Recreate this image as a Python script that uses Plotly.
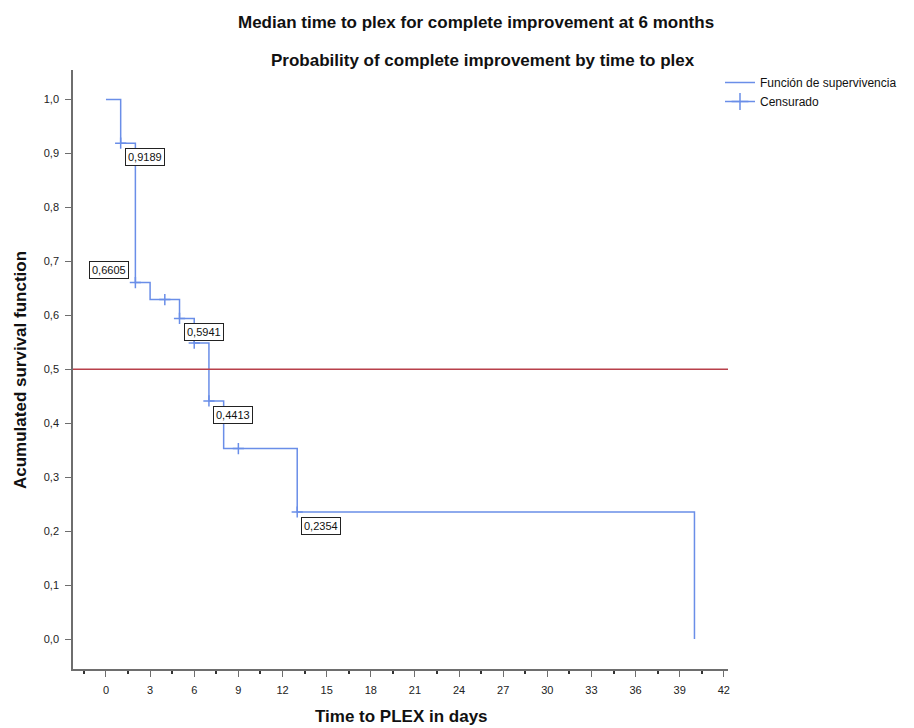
import plotly.graph_objects as go

# ---- data ----
event_times = [0, 1, 2, 3, 5, 6, 7, 8, 13, 40]
survival = [1.0, 0.9189, 0.6605, 0.6290, 0.5941, 0.5484, 0.4413, 0.3530, 0.2354, 0.0]

censor_times = [1, 2, 4, 5, 6, 7, 9, 13]
censor_values = [0.9189, 0.6605, 0.6290, 0.5941, 0.5484, 0.4413, 0.3530, 0.2354]

label_times = [1, 2, 5, 7, 13]
label_values = [0.9189, 0.6605, 0.5941, 0.4413, 0.2354]
label_texts = ["0,9189", "0,6605", "0,5941", "0,4413", "0,2354"]

median_level = 0.5

x_ticks = list(range(0, 43, 3))
y_ticks = [i / 10 for i in range(11)]

title1 = "Median time to plex for complete improvement at 6 months"
title2 = "Probability of complete improvement by time to plex"
x_title = "Time to PLEX in days"
y_title = "Acumulated survival function"

FONT = "Liberation Sans, Arial, sans-serif"
BLUE = "#6a8ee8"
RED = "#b8404a"
AXIS = "#6e6e6e"

L, T, W, H = 73, 70, 655, 599

fig = go.Figure()

fig.add_trace(go.Scatter(
    x=event_times, y=survival, mode="lines", line_shape="hv",
    line=dict(color=BLUE, width=1.5), name="Función de supervivencia",
))
fig.add_trace(go.Scatter(
    x=censor_times, y=censor_values, mode="markers",
    marker=dict(symbol="cross-thin", size=8, line=dict(color=BLUE, width=1.5), color=BLUE),
    name="Censurado", showlegend=False,
))
# legend proxy for the censored marks (line with a cross, as in the reference)
fig.add_trace(go.Scatter(
    x=[None], y=[None], mode="lines+markers",
    line=dict(color=BLUE, width=1.5),
    marker=dict(symbol="cross-thin", size=12, line=dict(color=BLUE, width=1.5), color=BLUE),
    name="Censurado",
))

fig.add_hline(y=median_level, line=dict(color=RED, width=1.5))

for t, v, txt in zip(label_times, label_values, label_texts):
    if txt == "0,6605":
        anch = dict(xanchor="right", yanchor="bottom", xshift=-6, yshift=4)
    else:
        anch = dict(xanchor="left", yanchor="top", xshift=4, yshift=-5)
    fig.add_annotation(
        x=t, y=v, xref="x", yref="y", text=txt, showarrow=False,
        font=dict(family=FONT, size=11, color="#111"),
        bgcolor="white", bordercolor="#222", borderwidth=1, borderpad=2,
        **anch,
    )

def px_x(p):
    return (p - L) / W

def px_y(p):
    return (T + H - p) / H

# titles
fig.add_annotation(x=px_x(476), y=px_y(22), xref="paper", yref="paper",
                   text=title1, showarrow=False, xanchor="center", yanchor="middle",
                   font=dict(family=FONT, size=17, color="#111", weight="bold"))
fig.add_annotation(x=px_x(483), y=px_y(60), xref="paper", yref="paper",
                   text=title2, showarrow=False, xanchor="center", yanchor="middle",
                   font=dict(family=FONT, size=17, color="#111", weight="bold"))
fig.add_annotation(x=px_x(401), y=px_y(716), xref="paper", yref="paper",
                   text=x_title, showarrow=False, xanchor="center", yanchor="middle",
                   font=dict(family=FONT, size=17, color="#111", weight="bold"))
fig.add_annotation(x=px_x(20), y=px_y(370), xref="paper", yref="paper",
                   text=y_title, showarrow=False, xanchor="center", yanchor="middle",
                   textangle=-90,
                   font=dict(family=FONT, size=17, color="#111", weight="bold"))

fig.update_layout(
    width=914, height=728,
    margin=dict(l=L, r=914 - L - W, t=T, b=728 - T - H),
    paper_bgcolor="white", plot_bgcolor="white",
    separators=",.",
    font=dict(family=FONT, size=11, color="#222"),
    showlegend=True,
    legend=dict(x=px_x(720), y=px_y(68), xanchor="left", yanchor="top",
                font=dict(family=FONT, size=12, color="#111"),
                bgcolor="rgba(0,0,0,0)", tracegroupgap=0),
    xaxis=dict(range=[-2.24, 42.28], tickvals=x_ticks, showgrid=False, zeroline=False,
               showline=True, linecolor=AXIS, linewidth=1.5,
               ticks="outside", ticklen=6, tickcolor=AXIS, tickwidth=1,
               ticklabelstandoff=4,
               tickfont=dict(family=FONT, size=11, color="#222"),
               minor=dict(tick0=-1.5, dtick=3, ticks="outside", ticklen=3,
                          tickcolor="#333", tickwidth=1.5, showgrid=False)),
    yaxis=dict(range=[-0.0555, 1.0545], tickvals=y_ticks, tickformat=".1f",
               showgrid=False, zeroline=False,
               showline=True, linecolor=AXIS, linewidth=1.5,
               ticks="outside", ticklen=6, tickcolor=AXIS, tickwidth=1,
               ticklabelstandoff=4,
               tickfont=dict(family=FONT, size=11, color="#222")),
)

fig.write_html(
    "out.html",
    config={"displayModeBar": False},
    post_script="document.body.style.margin='0';document.body.style.overflow='hidden';",
)
